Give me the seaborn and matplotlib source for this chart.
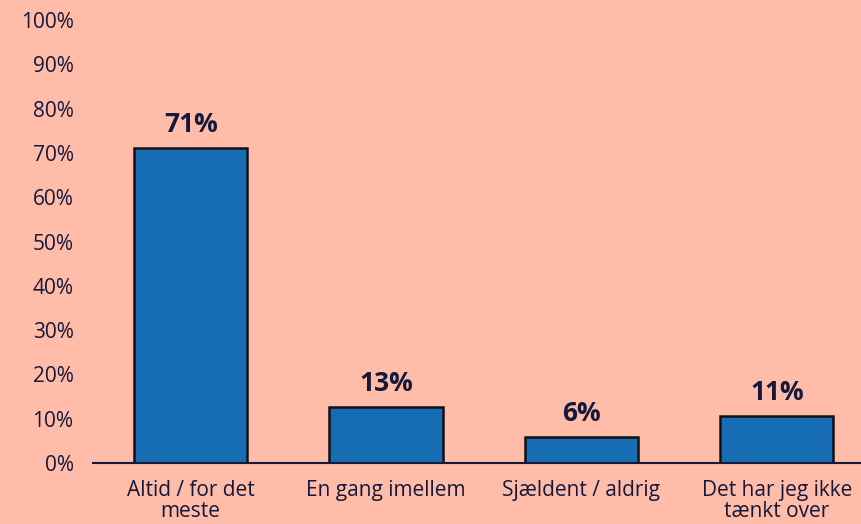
import pandas as pd
import matplotlib.pyplot as plt
import seaborn as sns

# Data
categories = ["Altid / for det\nmeste", "En gang imellem", "Sjældent / aldrig", "Det har jeg ikke\ntænkt over"]
values = [71.2, 12.6, 5.9, 10.6]
yticks = list(range(0, 101, 10))

df = pd.DataFrame({"kategori": categories, "andel": values})

bg = "#FEBCA9"
navy = "#15183A"
blue = "#166DB3"

sns.set_theme(style="white")
plt.rcParams["font.family"] = ["Open Sans", "DejaVu Sans"]

fig = plt.figure(figsize=(8.61, 5.24), dpi=100, facecolor=bg)
ax = fig.add_axes([93 / 861, 61 / 524, (874.5 - 93) / 861, 443 / 524])
ax.set_facecolor(bg)

sns.barplot(data=df, x="kategori", y="andel", color=blue, width=0.58,
            edgecolor="#111111", linewidth=1.8, saturation=1, ax=ax)

for i, v in enumerate(values):
    ax.text(i, v + 2.2, f"{round(v)}%", ha="center", va="bottom",
            fontsize=19, fontweight="bold", color=navy)

ax.set_ylim(0, 100)
ax.set_xlim(-0.5, 3.5)
ax.set_yticks(yticks)
ax.set_yticklabels([f"{t}%" for t in yticks], fontsize=15, color=navy)
ax.tick_params(axis="y", length=0, pad=14)
ax.tick_params(axis="x", length=0, pad=12, labelsize=15, labelcolor=navy)
for lab in ax.get_xticklabels():
    lab.set_linespacing(1.05)
ax.set_xlabel("")
ax.set_ylabel("")

for s in ["top", "right", "left"]:
    ax.spines[s].set_visible(False)
ax.spines["bottom"].set_color(navy)
ax.spines["bottom"].set_linewidth(1.5)

fig.savefig("out.png", dpi=100, facecolor=bg)
